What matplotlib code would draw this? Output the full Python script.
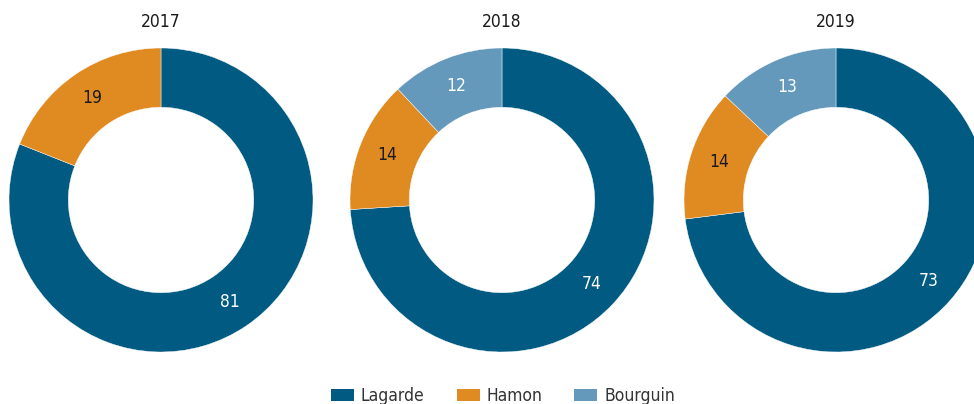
import matplotlib
matplotlib.use("Agg")
import matplotlib.pyplot as plt
from matplotlib.patches import Patch

years = ["2017", "2018", "2019"]
candidates = ["Lagarde", "Hamon", "Bourguin"]
lagarde = [81, 74, 73]
hamon = [19, 14, 14]
bourguin = [0, 12, 13]

colors = ["#005a82", "#e08a22", "#6499bb"]
label_colors = ["white", "#1a1a1a", "white"]

plt.rcParams['font.family'] = ['DejaVu Sans']
plt.rcParams['font.stretch'] = 'condensed'

W, H = 974, 404
fig = plt.figure(figsize=(W / 100, H / 100), dpi=100)

# donut centres in pixels (from top-left), outer radius
centres = [(161, 200), (502, 200), (836, 200)]
R = 152

for i, year in enumerate(years):
    cx, cy = centres[i]
    ax = fig.add_axes([(cx - R) / W, (H - cy - R) / H, 2 * R / W, 2 * R / H])
    vals = [lagarde[i], hamon[i], bourguin[i]]
    keep = [k for k, v in enumerate(vals) if v > 0]
    wedges, texts = ax.pie([vals[k] for k in keep], colors=[colors[k] for k in keep],
                           startangle=90, counterclock=False, radius=1.0,
                           wedgeprops=dict(width=0.39, edgecolor="white", linewidth=0.3),
                           labels=[str(vals[k]) for k in keep], labeldistance=0.81)
    for t, k in zip(texts, keep):
        t.set_color(label_colors[k])
        t.set_fontsize(12.5)
        t.set_ha("center")
        t.set_va("center")
    ax.set_xlim(-1, 1)
    ax.set_ylim(-1, 1)
    ax.set_aspect("equal")
    fig.text(cx / W, 1 - 22 / H, year, ha="center", va="center", fontsize=12.5, color="#1a1a1a")

handles = [Patch(facecolor=c, edgecolor="none") for c in colors]
fig.legend(handles, candidates, loc="center", bbox_to_anchor=(503 / W, 1 - 396 / H), ncol=3,
           frameon=False, fontsize=12.5, handlelength=1.32, handleheight=0.7,
           columnspacing=1.85, handletextpad=0.4, labelcolor="#333333")

fig.savefig("out.png", dpi=100)
